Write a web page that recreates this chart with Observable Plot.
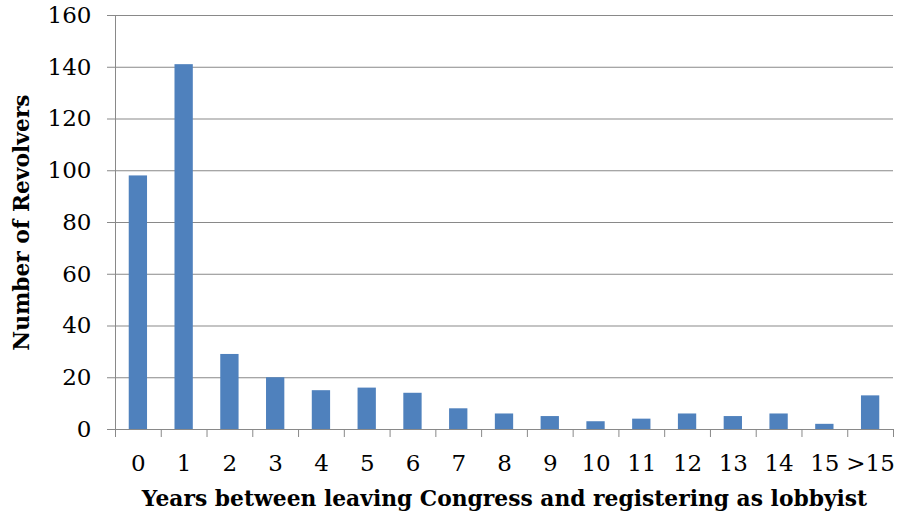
<!DOCTYPE html>
<html>
<head>
<meta charset="utf-8">
<script src="https://cdn.jsdelivr.net/npm/d3@7"></script>
<script src="https://cdn.jsdelivr.net/npm/@observablehq/plot@0.6"></script>
<style>
  html, body { margin: 0; padding: 0; background: #fff; }
</style>
</head>
<body>
<div id="chart"></div>
<script>
const categories = ["0","1","2","3","4","5","6","7","8","9","10","11","12","13","14","15",">15"];
const counts = [98,141,29,20,15,16,14,8,6,5,3,4,6,5,6,2,13];
const yTicks = [0,20,40,60,80,100,120,140,160];
const xTitle = "Years between leaving Congress and registering as lobbyist";
const yTitle = "Number of Revolvers";

const data = categories.map((c, i) => ({c, i, v: counts[i]}));
const gray = "#898989";

const chart = Plot.plot({
  width: 897,
  height: 524,
  marginLeft: 115,
  marginRight: 4,
  marginTop: 15,
  marginBottom: 95,
  style: {fontFamily: "DejaVu Serif", fontSize: "23px", color: "black", background: "white"},
  x: {domain: [0, categories.length]},
  y: {domain: [0, 160]},
  marks: [
    Plot.gridY(yTicks, {stroke: gray, strokeOpacity: 1}),
    Plot.rectY(data, {x1: d => d.i + 0.3, x2: d => d.i + 0.7, y: "v", fill: "#4F81BD"}),
    Plot.ruleX([0], {stroke: gray}),
    Plot.ruleY([0], {stroke: gray}),
    Plot.axisY(yTicks, {tickSize: 8, tickPadding: 16, fontSize: 23, stroke: gray, strokeOpacity: 1, label: null}),
    Plot.axisX(d3.range(categories.length + 1), {tickSize: 8, tickFormat: () => "", stroke: gray, strokeOpacity: 1, label: null}),
    Plot.axisX(d3.range(categories.length).map(i => i + 0.5), {tickSize: 0, tickPadding: 25, fontSize: 23, tickFormat: d => categories[Math.floor(d)], label: null}),
    Plot.text([xTitle], {frameAnchor: "bottom", dy: 76, fontSize: 21.8, fontWeight: "bold", fill: "black"}),
    Plot.text([yTitle], {frameAnchor: "left", dx: -93, rotate: -90, textAnchor: "middle", fontSize: 21.8, fontWeight: "bold", fill: "black"})
  ]
});
document.getElementById("chart").appendChild(chart);
</script>
</body>
</html>
